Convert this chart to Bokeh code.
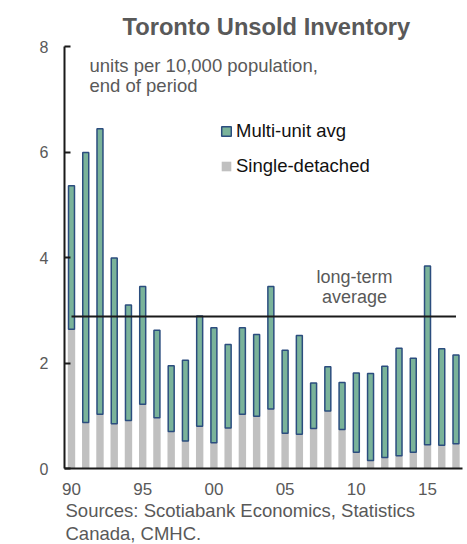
from bokeh.plotting import figure
from bokeh.models import (Range1d, FixedTicker, Label, Legend, LegendItem, ColumnDataSource,
                          Title, AllLabels, CustomJSTickFormatter)
from bokeh.embed import file_html
from bokeh.resources import INLINE

# ---- data ----
years = list(range(1990, 2018))
single_detached = [2.64, 0.87, 1.03, 0.85, 0.91, 1.22, 0.96, 0.70, 0.52, 0.80,
                   0.49, 0.77, 1.03, 0.99, 1.13, 0.67, 0.65, 0.76, 1.09, 0.74,
                   0.31, 0.15, 0.21, 0.24, 0.31, 0.45, 0.44, 0.47]
multi_unit = [2.72, 5.12, 5.41, 3.14, 2.19, 2.23, 1.66, 1.25, 1.53, 2.09,
              2.18, 1.58, 1.64, 1.55, 2.32, 1.57, 1.87, 0.86, 0.84, 0.89,
              1.50, 1.65, 1.73, 2.04, 1.78, 3.39, 1.83, 1.68]
long_term_average = 2.88
x_tick_years = [1990, 1995, 2000, 2005, 2010, 2015]
x_tick_labels = ["90", "95", "00", "05", "10", "15"]
y_ticks = [0, 2, 4, 6, 8]

title_text = "Toronto Unsold Inventory"
unit_lines = ["units per 10,000 population,", "end of period"]
avg_lines = ["long-term", "average"]
source_lines = ["Sources: Scotiabank Economics, Statistics", "Canada, CMHC."]
series_names = ["Multi-unit avg", "Single-detached"]

# ---- styles ----
GREEN = "#7ab39a"
BLUE = "#2b4d7e"
GRAY = "#c0c0c0"
TXT = "#595959"
FONT = "Liberation Sans"

total = [s + m for s, m in zip(single_detached, multi_unit)]
src = ColumnDataSource(dict(year=years, single=single_detached, multi=multi_unit, total=total))

p = figure(width=467, height=544,
           x_range=Range1d(1989.5084, 2017.457), y_range=Range1d(0, 8),
           output_backend="svg", toolbar_location=None,
           min_border_left=64, min_border_right=5, min_border_top=46, min_border_bottom=76)
p.grid.visible = False
p.outline_line_color = None
p.background_fill_color = "white"
p.border_fill_color = "white"

p.title = Title(text=title_text, align="left", offset=58, standoff=14,
                text_font=FONT, text_font_size="23.7px", text_font_style="bold",
                text_color=TXT)

r_single = p.vbar(x="year", bottom=0, top="single", width=0.52, source=src,
                  fill_color=GRAY, line_color=None)
r_multi = p.vbar(x="year", bottom="single", top="total", width=0.42, source=src,
                 fill_color=GREEN, line_color=BLUE, line_width=1.5)

p.line(x=[years[0], years[-1]], y=[long_term_average, long_term_average],
       line_color="#1a1a1a", line_width=2)

# axes
ya = p.yaxis[0]
ya.ticker = FixedTicker(ticks=y_ticks, minor_ticks=[])
ya.major_tick_in = 6
ya.major_tick_out = 0
ya.minor_tick_in = 0
ya.minor_tick_out = 0
ya.axis_line_width = 2
ya.axis_line_color = "#1a1a1a"
ya.major_tick_line_width = 2
ya.major_tick_line_color = "#1a1a1a"
ya.major_label_text_font = FONT
ya.major_label_text_font_size = "16px"
ya.major_label_text_color = TXT
ya.major_label_standoff = 16

xa = p.xaxis[0]
xa.ticker = FixedTicker(ticks=x_tick_years, minor_ticks=[])
xa.formatter = CustomJSTickFormatter(
    args=dict(year_vals=x_tick_years, year_text=x_tick_labels),
    code="const i = year_vals.indexOf(Math.round(tick)); return i < 0 ? '' : year_text[i];")
xa.major_label_policy = AllLabels()
xa.major_tick_in = 0
xa.major_tick_out = 0
xa.minor_tick_in = 0
xa.minor_tick_out = 0
xa.axis_line_width = 2
xa.axis_line_color = "#1a1a1a"
xa.major_label_text_font = FONT
xa.major_label_text_font_size = "17px"
xa.major_label_text_color = TXT
xa.major_label_standoff = 14

# sources note below the axis, one title per line
for line in source_lines:
    p.add_layout(Title(text=line, align="left", offset=1, standoff=0,
                       text_font=FONT, text_font_size="18.5px", text_font_style="normal",
                       text_color=TXT), "below")

# helpers: pixel position -> data coordinate (for annotation placement)
def dx(px):
    return 1990 + (px - 71.0) / 14.2404

def dy(py):
    return (468.0 - py) / 52.625

def add_label(text, px, py, size, color=TXT, align="left"):
    p.add_layout(Label(x=dx(px), y=dy(py), text=text, text_font=FONT,
                       text_font_size=size, text_color=color, text_align=align,
                       text_baseline="alphabetic"))

add_label(unit_lines[0], 89, 65.5, "18.5px")
add_label(unit_lines[1], 89, 86, "18.5px")
add_label(avg_lines[0], 354, 276.7, "18px", align="center")
add_label(avg_lines[1], 354, 296.5, "18px", align="center")

legend = Legend(items=[LegendItem(label=series_names[0], renderers=[r_multi]),
                       LegendItem(label=series_names[1], renderers=[r_single])],
                location=(156, 291), padding=0, margin=0, spacing=13,
                glyph_width=12, glyph_height=12, label_standoff=4,
                label_text_font=FONT, label_text_font_size="18.5px",
                label_text_color="#111111",
                border_line_color=None, background_fill_alpha=0)
p.add_layout(legend, "center")

open("out.html", "w").write(file_html(p, INLINE))
